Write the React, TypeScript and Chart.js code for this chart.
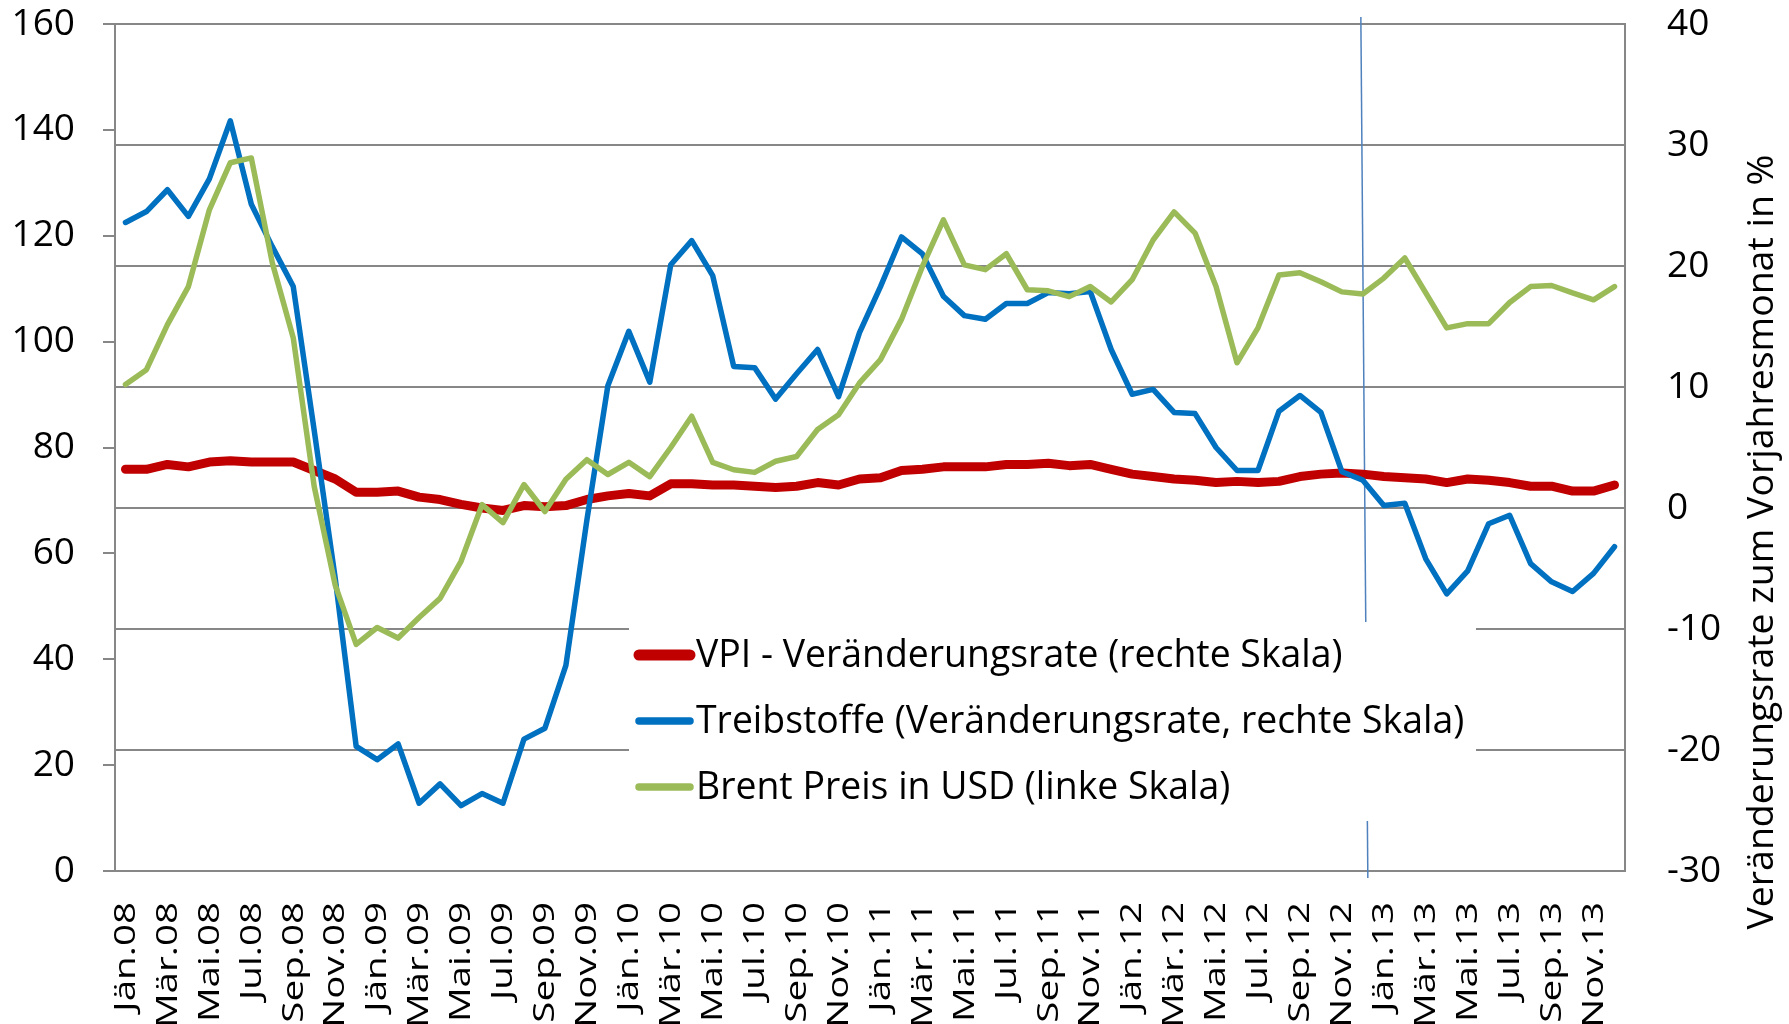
import React, { useEffect, useRef } from "react";
import { Chart, registerables } from "chart.js";

Chart.register(...registerables);

// ---------- data ----------
const MONTHS = ["Jän", "Feb", "Mär", "Apr", "Mai", "Jun", "Jul", "Aug", "Sep", "Okt", "Nov", "Dez"];
const YEARS = ["08", "09", "10", "11", "12", "13"];
const CATEGORIES = YEARS.flatMap((y) => MONTHS.map((m) => `${m}.${y}`));

// VPI - Veränderungsrate (rechte Skala), %
const VPI = [
  3.2, 3.2, 3.6, 3.4, 3.8, 3.9, 3.8, 3.8, 3.8, 3.1, 2.4, 1.3,
  1.3, 1.4, 0.9, 0.7, 0.3, 0.0, -0.2, 0.2, 0.1, 0.2, 0.7, 1.0,
  1.2, 1.0, 2.0, 2.0, 1.9, 1.9, 1.8, 1.7, 1.8, 2.1, 1.9, 2.4,
  2.5, 3.1, 3.2, 3.4, 3.4, 3.4, 3.6, 3.6, 3.7, 3.5, 3.6, 3.2,
  2.8, 2.6, 2.4, 2.3, 2.1, 2.2, 2.1, 2.2, 2.6, 2.8, 2.9, 2.8,
  2.6, 2.5, 2.4, 2.1, 2.4, 2.3, 2.1, 1.8, 1.8, 1.4, 1.4, 1.9,
];

// Treibstoffe (Veränderungsrate, rechte Skala), %
const TREIBSTOFFE = [
  23.6, 24.5, 26.3, 24.1, 27.2, 32.0, 25.1, 21.6, 18.3, 6.4, -5.8, -19.7,
  -20.8, -19.5, -24.4, -22.8, -24.6, -23.6, -24.4, -19.1, -18.2, -13.0, -1.0, 10.1,
  14.6, 10.4, 20.1, 22.1, 19.2, 11.7, 11.6, 9.0, 11.1, 13.1, 9.2, 14.5,
  18.3, 22.4, 21.0, 17.5, 15.9, 15.6, 16.9, 16.9, 17.8, 17.7, 17.9, 13.1,
  9.4, 9.8, 7.9, 7.8, 5.0, 3.1, 3.1, 8.0, 9.3, 7.9, 3.0, 2.3,
  0.2, 0.4, -4.2, -7.1, -5.2, -1.3, -0.6, -4.6, -6.1, -6.9, -5.4, -3.2,
];

// Brent Preis in USD (linke Skala)
const BRENT = [
  91.9, 94.7, 103.2, 110.4, 124.9, 133.8, 134.7, 114.9, 100.7, 72.6, 54.0, 42.8,
  46.0, 44.0, 47.9, 51.5, 58.5, 69.2, 65.8, 73.0, 67.9, 74.0, 77.7, 74.9,
  77.2, 74.5, 80.0, 85.9, 77.2, 75.8, 75.3, 77.4, 78.3, 83.4, 86.2, 92.2,
  96.6, 104.2, 114.2, 123.0, 114.5, 113.6, 116.6, 109.8, 109.6, 108.5, 110.4, 107.5,
  111.7, 119.2, 124.5, 120.5, 110.4, 96.0, 102.6, 112.6, 113.0, 111.3, 109.4, 109.0,
  112.0, 115.8, 109.2, 102.6, 103.4, 103.4, 107.4, 110.4, 110.6, 109.2, 107.9, 110.4,
];

const SERIES_LABELS = [
  "VPI - Veränderungsrate (rechte Skala)",
  "Treibstoffe (Veränderungsrate, rechte Skala)",
  "Brent Preis in USD (linke Skala)",
];
const LEFT_RANGE = [0, 160, 20];
const RIGHT_RANGE = [-30, 40, 10];
const RIGHT_TITLE = "Veränderungsrate zum Vorjahresmonat in %";
const MARKER_CATEGORY = "Dez.12";

// ---------- styles ----------
const FONT = "'Open Sans', sans-serif";
const GRID = "#878787";
const COLORS = ["#C00000", "#0070C0", "#9BBB59"];
const WIDTHS = [9, 5.5, 5.5];

const overlayPlugin = {
  id: "overlay",
  beforeDatasetsDraw(chart: any) {
    const { ctx, chartArea, scales } = chart;
    const x = scales.x.getPixelForValue(CATEGORIES.indexOf(MARKER_CATEGORY));
    ctx.save();
    ctx.strokeStyle = "#4F81BD";
    ctx.lineWidth = 1.5;
    ctx.beginPath();
    ctx.moveTo(x - 2, chartArea.top - 7);
    ctx.lineTo(x + 5, chartArea.bottom + 7);
    ctx.stroke();
    ctx.restore();
  },
  afterDraw(chart: any) {
    const { ctx, chartArea, scales } = chart;
    // x-axis labels (every second month, stretched along the text)
    ctx.save();
    ctx.fillStyle = "#000";
    ctx.font = `29px ${FONT}`;
    ctx.textAlign = "right";
    ctx.textBaseline = "middle";
    CATEGORIES.forEach((lab, i) => {
      if (i % 2 !== 0) return;
      const x = scales.x.getPixelForValue(i);
      ctx.save();
      ctx.translate(x + 1, chartArea.bottom + 31);
      ctx.rotate(-Math.PI / 2);
      ctx.scale(1.33, 1);
      ctx.fillText(lab, 0, 0);
      ctx.restore();
    });
    ctx.restore();

    // right axis title
    ctx.save();
    ctx.fillStyle = "#000";
    ctx.font = `36px ${FONT}`;
    ctx.textAlign = "center";
    ctx.textBaseline = "middle";
    const w = ctx.measureText(RIGHT_TITLE).width;
    ctx.translate(chart.width - 26, 542);
    ctx.rotate(-Math.PI / 2);
    ctx.scale(775 / w, 1);
    ctx.fillText(RIGHT_TITLE, 0, 0);
    ctx.restore();

    // legend box
    const bx = 629, by = 622, bw = 847, bh = 199;
    ctx.save();
    ctx.fillStyle = "#fff";
    ctx.fillRect(bx, by, bw, bh);
    ctx.font = `37.4px ${FONT}`;
    ctx.textAlign = "left";
    ctx.textBaseline = "middle";
    const rows = [655, 721, 787];
    chart.data.datasets.forEach((ds: any, i: number) => {
      const y = rows[i];
      ctx.strokeStyle = ds.borderColor;
      ctx.lineWidth = ds.borderWidth + 2;
      ctx.lineCap = "round";
      ctx.beginPath();
      ctx.moveTo(bx + 10, y);
      ctx.lineTo(bx + 61, y);
      ctx.stroke();
      ctx.fillStyle = "#000";
      ctx.fillText(ds.label, bx + 67, y + 1);
    });
    ctx.restore();
  },
};

export default function App() {
  const ref = useRef<HTMLCanvasElement | null>(null);

  useEffect(() => {
    if (!ref.current) return;
    const mk = (i: number, data: number[], axis: string, order: number) => ({
      label: SERIES_LABELS[i],
      data,
      yAxisID: axis,
      borderColor: COLORS[i],
      backgroundColor: COLORS[i],
      borderWidth: WIDTHS[i],
      pointRadius: 0,
      tension: 0,
      borderJoinStyle: "round",
      borderCapStyle: "round",
      fill: false,
      order,
    });
    const fixV = (w: number) => (s: any) => {
      s.width = w;
      s.paddingTop = 0;
      s.paddingBottom = 0;
    };
    const chart = new Chart(ref.current, {
      type: "line",
      data: {
        labels: CATEGORIES,
        datasets: [
          mk(0, VPI, "y2", 2),
          mk(1, TREIBSTOFFE, "y2", 1),
          mk(2, BRENT, "y", 0),
        ] as any,
      },
      options: {
        responsive: false,
        maintainAspectRatio: false,
        animation: false,
        devicePixelRatio: 1,
        layout: { autoPadding: false, padding: { top: 24, left: 0, right: 0, bottom: 0 } },
        plugins: { legend: { display: false }, tooltip: { enabled: false }, title: { display: false } },
        scales: {
          x: {
            type: "category",
            offset: true,
            grid: { display: false, drawTicks: false },
            border: { display: true, color: GRID, width: 2 },
            ticks: { display: false },
            afterFit: (s: any) => {
              s.height = 153;
              s.paddingLeft = 0;
              s.paddingRight = 0;
            },
          },
          y: {
            position: "left",
            min: LEFT_RANGE[0],
            max: LEFT_RANGE[1],
            grid: { drawOnChartArea: false, drawTicks: true, tickLength: 12, color: GRID, lineWidth: 2 },
            border: { display: true, color: GRID, width: 2 },
            ticks: { stepSize: LEFT_RANGE[2], padding: 28, color: "#000", font: { family: FONT, size: 37 } },
            afterFit: fixV(115),
          },
          y2: {
            position: "right",
            min: RIGHT_RANGE[0],
            max: RIGHT_RANGE[1],
            grid: { drawOnChartArea: true, drawTicks: false, color: GRID, lineWidth: 2 },
            border: { display: true, color: GRID, width: 2 },
            ticks: { stepSize: RIGHT_RANGE[2], padding: 42, color: "#000", font: { family: FONT, size: 37 } },
            afterFit: fixV(164),
          },
        },
      } as any,
      plugins: [overlayPlugin],
    });
    return () => chart.destroy();
  }, []);

  return (
    <div style={{ position: "fixed", left: 0, top: 0, width: 1789, height: 1024, background: "#fff" }}>
      <canvas ref={ref} width={1789} height={1024} style={{ display: "block" }} />
    </div>
  );
}
